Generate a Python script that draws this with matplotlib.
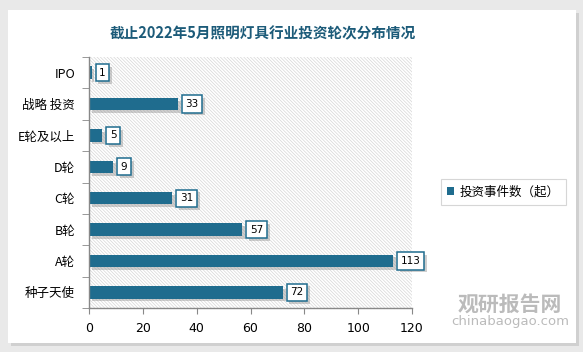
import matplotlib.pyplot as plt
import matplotlib.patheffects as pe
from matplotlib.patches import Rectangle, Patch
import numpy as np

plt.rcParams['font.family'] = ['Noto Sans CJK SC', 'DejaVu Sans']
plt.rcParams['hatch.linewidth'] = 0.5
plt.rcParams['hatch.color'] = '#D6D6D6'

categories = ['IPO', '战略 投资', 'E轮及以上', 'D轮', 'C轮', 'B轮', 'A轮', '种子天使']
values = [1, 33, 5, 9, 31, 57, 113, 72]
xticks = [0, 20, 40, 60, 80, 100, 120]

bar_color = '#1F6C8E'
title_color = '#1C5B79'

fig = plt.figure(figsize=(5.83, 3.52), dpi=100)
fig.patch.set_facecolor('#E9E9E9')
# white panel
panel = Rectangle((8 / 583, 9 / 352), 568 / 583, 333 / 352, transform=fig.transFigure,
                  facecolor='white', edgecolor='none', zorder=-5)
panel.set_path_effects([pe.SimplePatchShadow(offset=(2, -2), shadow_rgbFace='#D0D0D0', alpha=1), pe.Normal()])
fig.patches.append(panel)

ax = fig.add_axes([89 / 583, 44 / 352, 323 / 583, 251 / 352])
ax.set_facecolor('none')
bg = Rectangle((0, 0), 1, 1, transform=ax.transAxes, facecolor='white',
               edgecolor='#D6D6D6', hatch='\\' * 10, linewidth=0, zorder=0)
ax.add_patch(bg)

shadow = [pe.SimplePatchShadow(offset=(2, -2), shadow_rgbFace='#888888', alpha=0.4), pe.Normal()]

y = np.arange(len(categories))
bars = ax.barh(y, values, height=0.4, color=bar_color, zorder=3)
for b in bars:
    b.set_path_effects(shadow)

for yi, v in zip(y, values):
    t = ax.text(v + 2.8, yi, str(v), ha='left', va='center', fontsize=7.5, color='black', zorder=5,
                family='DejaVu Sans',
                bbox=dict(boxstyle='square,pad=0.35', facecolor='white', edgecolor=bar_color, linewidth=1.1))
    t.get_bbox_patch().set_path_effects(shadow)

ax.set_xlim(0, 120)
ax.set_ylim(len(categories) - 0.5, -0.5)
ax.set_xticks(xticks)
ax.set_xticklabels([str(x) for x in xticks], fontsize=9, family='DejaVu Sans')
ax.set_yticks(y)
ax.set_yticklabels(categories, fontsize=9)
ax.set_yticks(np.arange(-0.5, len(categories)), minor=True)
ax.tick_params(axis='y', which='major', length=0, pad=10)
ax.tick_params(axis='y', which='minor', length=5, color='#888888', direction='out')
ax.tick_params(axis='x', length=4, color='#888888', direction='out', pad=6)

for s in ['top', 'right']:
    ax.spines[s].set_visible(False)
for s in ['left', 'bottom']:
    ax.spines[s].set_color('#888888')
    ax.spines[s].set_linewidth(1)
    ax.spines[s].set_zorder(4)

fig.text(263 / 583, 1 - 33 / 352, '截止2022年5月照明灯具行业投资轮次分布情况', ha='center', va='center',
         fontsize=10.5, fontweight='bold', color=title_color)

leg = fig.legend(handles=[Patch(facecolor=bar_color, label='投资事件数（起）')],
                 loc='center', bbox_to_anchor=(503 / 583, 1 - 192 / 352), fontsize=9,
                 handlelength=0.6, handleheight=0.6, handletextpad=0.4, fancybox=False,
                 edgecolor='#CCCCCC', borderpad=0.5)
leg.get_frame().set_linewidth(0.8)

# watermark
fig.text(510 / 583, 1 - 304 / 352, '观研报告网', ha='center', va='center', fontsize=15,
         fontweight='bold', color='#AAAAAA', alpha=0.8)
fig.text(510 / 583, 1 - 322 / 352, 'chinabaogao.com', ha='center', va='center', fontsize=9.5,
         color='#AAAAAA', alpha=0.8, family='DejaVu Sans')

fig.savefig('out.png', dpi=100, facecolor=fig.get_facecolor())
